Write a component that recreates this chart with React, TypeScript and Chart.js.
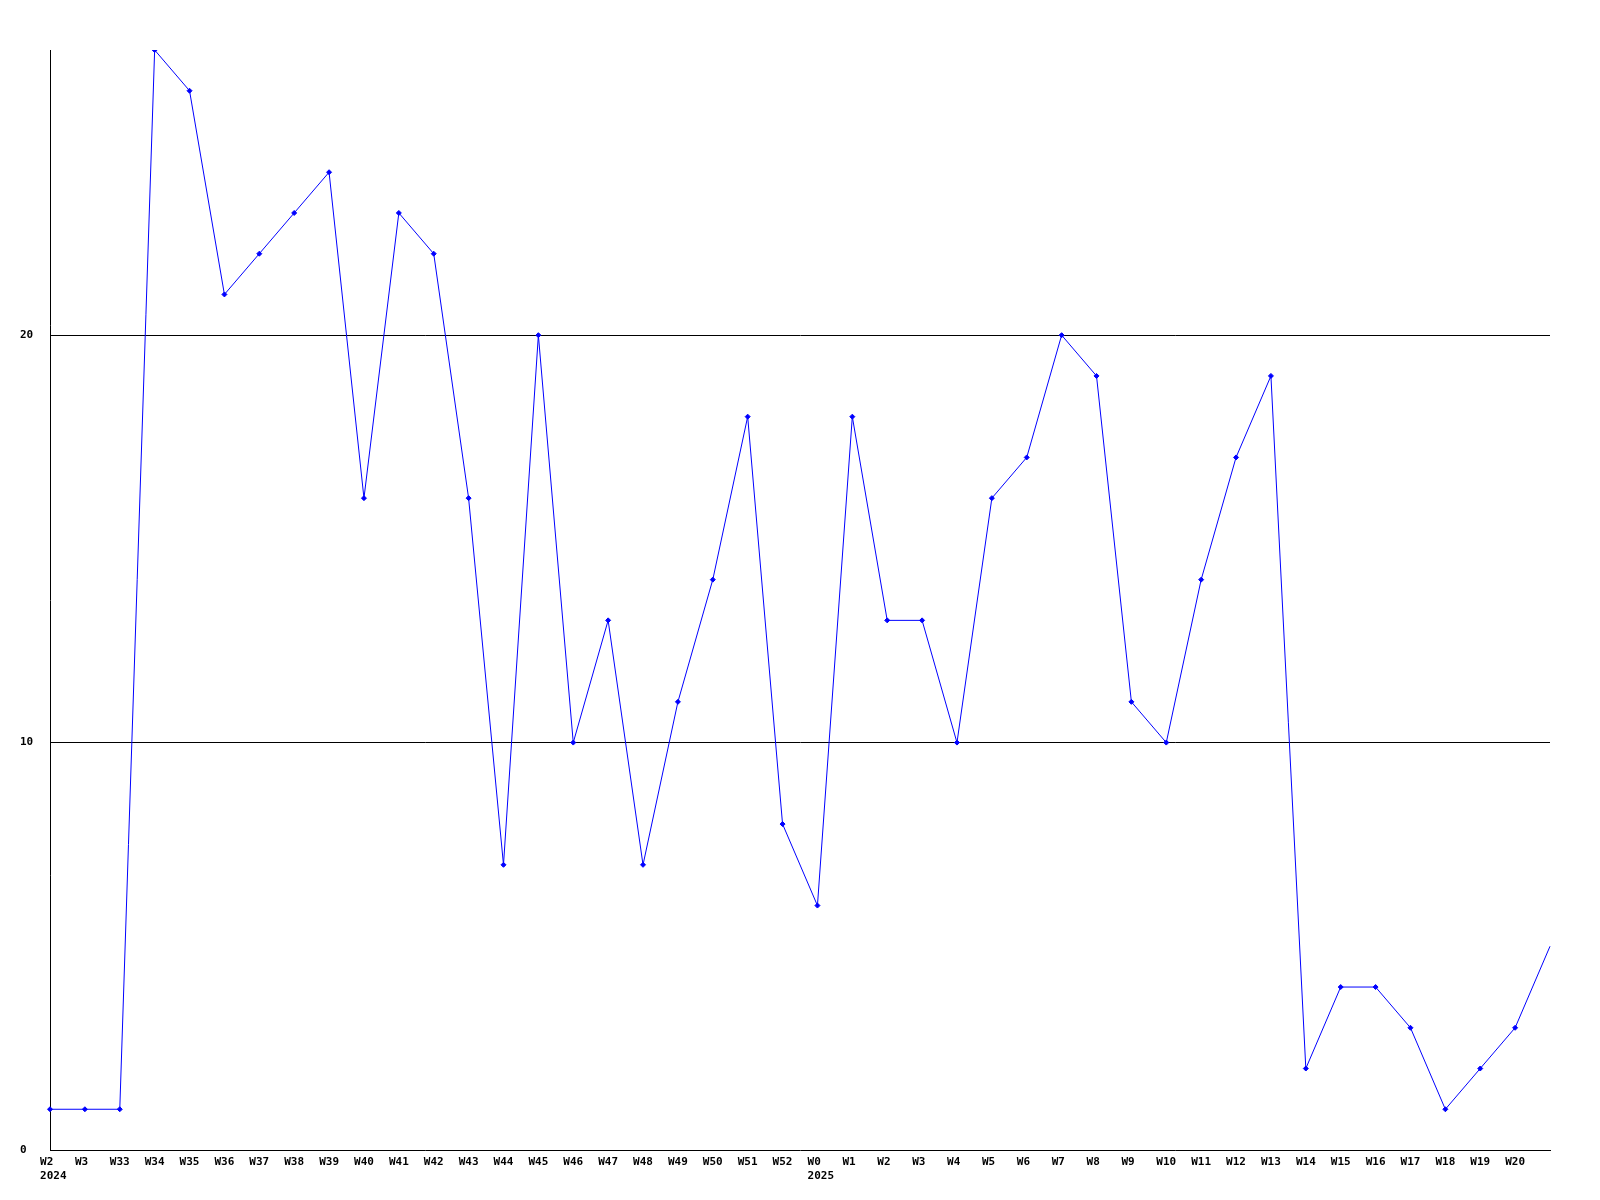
import React, { useEffect, useRef } from "react";
import { Chart, registerables } from "chart.js";

Chart.register(...registerables);

const weekLabels = [
  "W2", "W3", "W33", "W34", "W35", "W36", "W37", "W38", "W39", "W40", "W41",
  "W42", "W43", "W44", "W45", "W46", "W47", "W48", "W49", "W50", "W51", "W52",
  "W0", "W1", "W2", "W3", "W4", "W5", "W6", "W7", "W8", "W9", "W10", "W11",
  "W12", "W13", "W14", "W15", "W16", "W17", "W18", "W19", "W20", "",
];
const yearLabels: Record<number, string> = { 0: "2024", 22: "2025" };

const values = [
  1, 1, 1, 27, 26, 21, 22, 23, 24, 16, 23,
  22, 16, 7, 20, 10, 13, 7, 11, 14, 18, 8,
  6, 18, 13, 13, 10, 16, 17, 20, 19, 11, 10, 14,
  17, 19, 2, 4, 4, 3, 1, 2, 3, 5,
];

const yTicks = [0, 10, 20];
const yMax = 27;

const FONT = { family: "'DejaVu Sans Mono', monospace", size: 11, weight: "bold" as const };

export default function App() {
  const ref = useRef<HTMLCanvasElement | null>(null);
  useEffect(() => {
    if (!ref.current) return;
    const labels = weekLabels.map((w, i) => {
      const padded = w.length < 3 && w.length > 0 ? w + " " : w;
      return yearLabels[i] ? [padded, " " + yearLabels[i]] : padded;
    });
    const radii = values.map((_, i) => (i === values.length - 1 ? 0 : 2.5));
    const chart = new Chart(ref.current, {
      type: "line",
      data: {
        labels,
        datasets: [
          {
            data: values,
            borderColor: "#0000ff",
            backgroundColor: "#0000ff",
            borderWidth: 1,
            pointStyle: "rectRot",
            pointRadius: radii,
            pointHoverRadius: radii,
            pointBorderWidth: 1,
            tension: 0,
            fill: false,
          },
        ],
      },
      options: {
        animation: false,
        responsive: false,
        maintainAspectRatio: false,
        layout: { padding: { left: 20, top: 50, right: 50, bottom: 0 } },
        plugins: { legend: { display: false }, tooltip: { enabled: false } },
        scales: {
          x: {
            offset: false,
            grid: { display: false, drawTicks: false },
            border: { display: true, color: "#000", width: 1 },
            ticks: {
              color: "#000",
              font: FONT,
              maxRotation: 0,
              autoSkip: false,
              padding: 6,
            },
            afterFit: (s: any) => {
              s.height = 50;
            },
          },
          y: {
            min: 0,
            max: yMax,
            afterBuildTicks: (s: any) => {
              s.ticks = yTicks.map((v) => ({ value: v }));
            },
            grid: {
              drawTicks: false,
              color: (ctx: any) => (ctx.tick && ctx.tick.value === 0 ? "rgba(0,0,0,0)" : "#000"),
              lineWidth: 1,
            },
            border: { display: true, color: "#000", width: 1 },
            ticks: {
              color: "#000",
              font: FONT,
              crossAlign: "far",
              padding: 0,
            },
            afterFit: (s: any) => {
              s.width = 30;
            },
          },
        },
      },
    });
    return () => chart.destroy();
  }, []);
  return (
    <div style={{ position: "absolute", left: 0, top: 0, width: 1600, height: 1200, background: "#fff" }}>
      <canvas ref={ref} width={1600} height={1200} style={{ width: 1600, height: 1200 }} />
    </div>
  );
}
